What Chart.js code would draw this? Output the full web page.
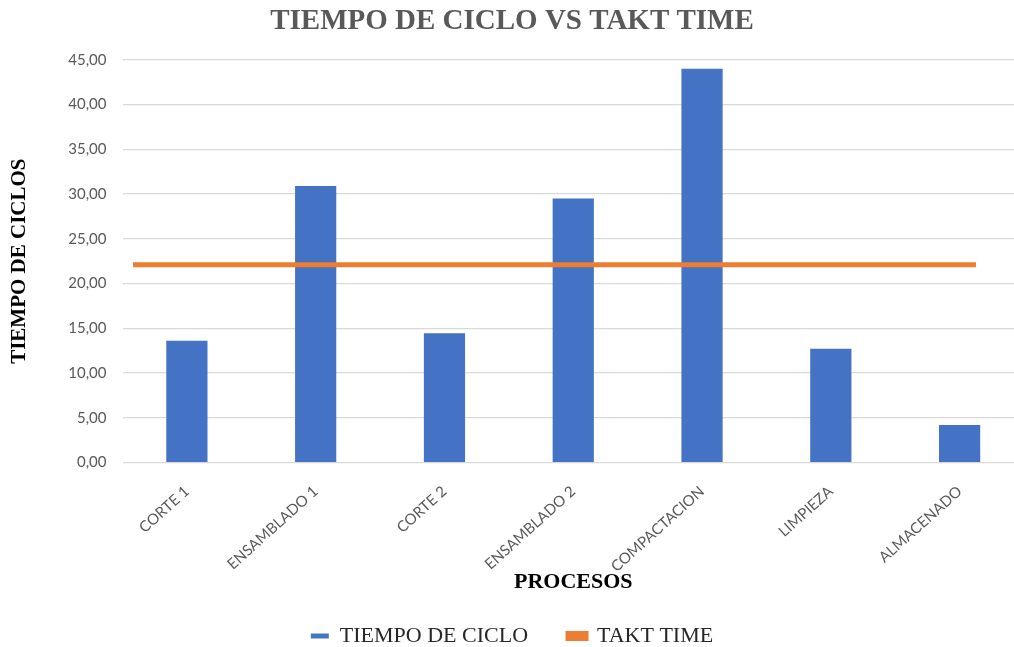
<!DOCTYPE html>
<html>
<head>
<meta charset="utf-8">
<script src="https://cdn.jsdelivr.net/npm/chart.js@4.4.0/dist/chart.umd.min.js"></script>
<style>
    html, body { margin: 0; padding: 0; overflow: hidden; background: #fff; }
    #wrap { width: 1040px; height: 647px; position: relative; }
</style>
</head>
<body>
<div id="wrap"><canvas id="cycleChart"></canvas></div>
<script>
//Data
const procesos = ['CORTE 1', 'ENSAMBLADO 1', 'CORTE 2', 'ENSAMBLADO 2', 'COMPACTACION', 'LIMPIEZA', 'ALMACENADO'];
const tiempoCiclo = [13.6, 30.9, 14.45, 29.5, 44.0, 12.7, 4.2];
const taktTime = [22.1, 22.1, 22.1, 22.1, 22.1, 22.1, 22.1];
const yTicks = [0, 5, 10, 15, 20, 25, 30, 35, 40, 45];

const serif = '"Liberation Serif", "Times New Roman", serif';

document.addEventListener('DOMContentLoaded', function(event) {
    createGraph();
});

//format like 45,00
function formatTick(value){
    return value.toFixed(2).replace('.', ',');
}

function createGraph(){
    const ctx = document.getElementById('cycleChart').getContext('2d');

    //takt line points on its own hidden axis (index of process, value)
    let taktPoints = [];
    for(let i = 0; i < taktTime.length; i++){
        taktPoints.push({x: i, y: taktTime[i]});
    }

    const myChart = new Chart(ctx, {
        type: 'bar',
        data: {
            labels: procesos,
            datasets: [{
                label: 'TIEMPO DE CICLO',
                data: tiempoCiclo,
                backgroundColor: '#4472C4',
                borderWidth: 0,
                grouped: false,
                categoryPercentage: 1,
                barPercentage: 0.32,
                xAxisID: 'x',
                order: 2
            }, {
                type: 'line',
                label: 'TAKT TIME',
                data: taktPoints,
                borderColor: '#ED7D31',
                backgroundColor: '#ED7D31',
                borderWidth: 5,
                pointRadius: 0,
                xAxisID: 'x2',
                order: 1
            }]
        },
        options: {
            responsive: true,
            maintainAspectRatio: false,
            animation: false,
            layout: { padding: { left: 0, right: 16, top: 0, bottom: 0 } },
            plugins: {
                title: {
                    display: true,
                    text: 'TIEMPO DE CICLO VS TAKT TIME',
                    color: '#595959',
                    font: { family: serif, size: 29, weight: 'bold' },
                    padding: { top: 4, bottom: 21 }
                },
                legend: {
                    position: 'bottom',
                    maxHeight: 62,
                    labels: {
                        color: '#262626',
                        font: { family: serif, size: 22 },
                        boxWidth: 18,
                        boxHeight: 5,
                        padding: 40,
                        sort: (a, b) => a.datasetIndex - b.datasetIndex
                    }
                },
                tooltip: { enabled: false }
            },
            scales: {
                x: {
                    grid: { display: false },
                    border: { display: false },
                    ticks: {
                        color: '#595959',
                        font: { family: 'Lato', size: 15 },
                        padding: 12,
                        maxRotation: 42,
                        minRotation: 42,
                        autoSkip: false
                    },
                    title: {
                        display: true,
                        text: 'PROCESOS',
                        color: '#000',
                        font: { family: serif, size: 22, weight: 'bold' },
                        padding: { top: 0, bottom: -11 }
                    },
                    afterFit: function(scale){ scale.height = 122.5; }
                },
                x2: {
                    type: 'linear',
                    display: false,
                    offset: false,
                    min: -0.0747,
                    max: 6.342
                },
                y: {
                    min: 0,
                    max: 45,
                    afterBuildTicks: function(scale){
                        scale.ticks = yTicks.map(v => ({value: v}));
                    },
                    grid: { color: '#d9d9d9', lineWidth: 1.2, drawTicks: false },
                    border: { display: false },
                    ticks: {
                        color: '#595959',
                        font: { family: 'Lato', size: 15 },
                        padding: 16,
                        callback: function(value){ return formatTick(value); }
                    },
                    title: {
                        display: true,
                        text: 'TIEMPO DE CICLOS',
                        color: '#000',
                        font: { family: serif, size: 21, weight: 'bold' },
                        padding: { top: 7, bottom: 0 }
                    },
                    afterFit: function(scale){ scale.width = 122.5; }
                }
            }
        }
    });
}
</script>
</body>
</html>
